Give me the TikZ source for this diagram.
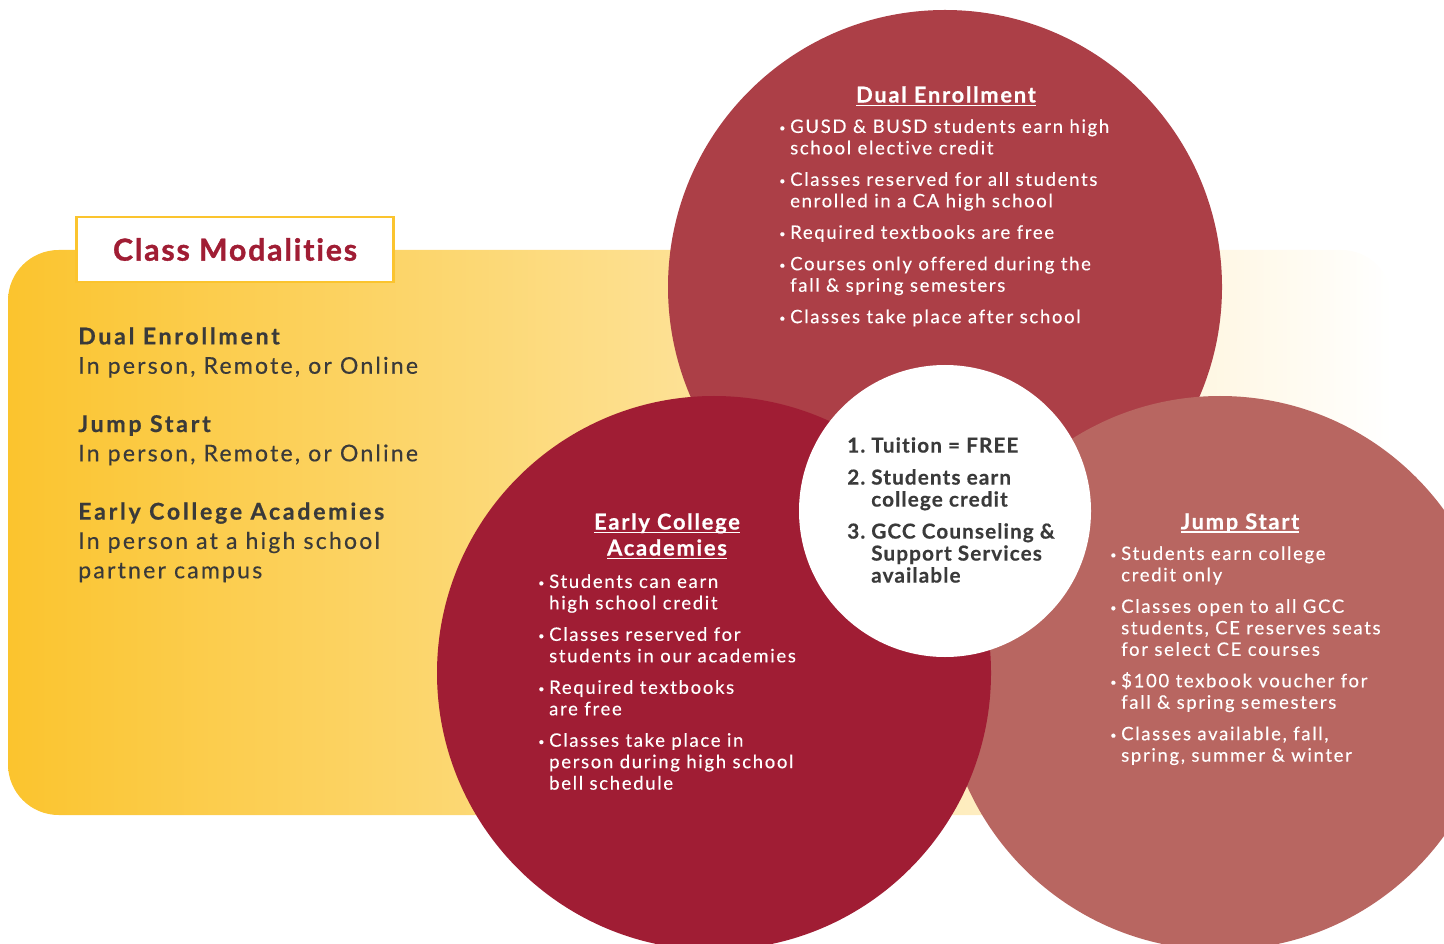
\documentclass[tikz,border=0pt]{standalone}
\usepackage{fontspec}
\setmainfont{Lato}[LetterSpace=8,Ligatures={NoCommon}]

\definecolor{deRed}{RGB}{172,63,71}
\definecolor{ecaRed}{RGB}{160,29,52}
\definecolor{jsRed}{RGB}{184,102,97}
\definecolor{gold}{RGB}{251,196,46}
\definecolor{ink}{RGB}{58,58,58}

\newcommand{\bul}{\makebox[8.2pt][l]{\raisebox{1pt}{\fontsize{8}{8}\selectfont\textbullet}}}
\newcommand{\ind}{\hspace*{8.2pt}}
\newcommand{\num}[1]{\makebox[18pt][l]{#1}}
\newcommand{\ulhead}[1]{\setbox0\hbox{#1}\rlap{\rule[-2.8pt]{\wd0}{1.2pt}}\box0}
\newcommand{\modehead}[1]{{\bfseries\addfontfeatures{LetterSpace=12,FakeBold=0.6}#1}}

\tikzset{
  bullets/.style={anchor=north west, inner sep=0pt, align=left, text=white,
    font=\fontsize{13.9}{16.1}\selectfont\addfontfeatures{LetterSpace=9,FakeBold=0.3}},
  heading/.style={anchor=north, inner sep=0pt, align=center, text=white,
    font=\fontsize{16.4}{19.5}\selectfont\bfseries\addfontfeatures{FakeBold=0.6}},
}

\begin{document}
\begin{tikzpicture}[x=0.75pt,y=0.75pt,yscale=-1,xscale=1]
\clip (0,0) rectangle (1444,944);

%Background band
\shade [left color=gold, right color=white, rounded corners=38pt] (8,250) rectangle (1392,815);
%Title box
\node [draw=gold, line width=1.8pt, fill=white, minimum width=238pt, minimum height=48.5pt,
  inner sep=0pt, text=ecaRed, font=\fontsize{22.7}{26}\selectfont\bfseries\addfontfeatures{LetterSpace=6,FakeBold=1.2}] (title) at (235,249.5) {Class Modalities};

%Circles
\fill [deRed]  (945,287) circle (277);
\fill [jsRed]  (1220,673) circle (277);
\fill [ecaRed] (714,673) circle (277);
\fill [white]  (945,511) circle (146);

% Text Node
\node [anchor=north west, inner sep=0pt, align=left, text=ink, font=\fontsize{17.3}{22}\selectfont\addfontfeatures{LetterSpace=9.5,FakeBold=0.3}] (modes) at (78,327)
  {\modehead{Dual Enrollment}\\
   In person, Remote, or Online\\[21.7pt]
   \modehead{Jump Start}\\
   In person, Remote, or Online\\[21.7pt]
   \modehead{Early College Academies}\\
   In person at a high school\\
   partner campus};

% Text Node
\node [heading] (deHead) at (946,86) {\ulhead{Dual Enrollment}};
% Text Node
\node [bullets] (deList) at (779,119)
  {\bul GUSD \& BUSD students earn high\\
   \ind school elective credit\\[7.5pt]
   \bul Classes reserved for all students\\
   \ind enrolled in a CA high school\\[7.5pt]
   \bul Required textbooks are free\\[7.5pt]
   \bul Courses only offered during the\\
   \ind fall \& spring semesters\\[7.5pt]
   \bul Classes take place after school};

% Text Node
\node [heading] (ecaHead) at (667,513) {\ulhead{Early College}\\ \ulhead{Academies}};
% Text Node
\node [bullets] (ecaList) at (538,574)
  {\bul Students can earn\\
   \ind high school credit\\[7.5pt]
   \bul Classes reserved for\\
   \ind students in our academies\\[7.5pt]
   \bul Required textbooks\\
   \ind are free\\[7.5pt]
   \bul Classes take place in\\
   \ind person during high school\\
   \ind bell schedule};

% Text Node
\node [heading] (jsHead) at (1240,513) {\ulhead{Jump Start}};
% Text Node
\node [bullets] (jsList) at (1110,546)
  {\bul Students earn college\\
   \ind credit only\\[7.5pt]
   \bul Classes open to all GCC\\
   \ind students, CE reserves seats\\
   \ind for select CE courses\\[7.5pt]
   \bul \$100 texbook voucher for\\
   \ind fall \& spring semesters\\[7.5pt]
   \bul Classes available, fall,\\
   \ind spring, summer \& winter};

% Text Node
\node [anchor=north west, inner sep=0pt, align=left, text=ink, font=\fontsize{15.5}{16.5}\selectfont\bfseries\addfontfeatures{LetterSpace=5.5,FakeBold=0.4}] (perks) at (847,437)
  {\num{1.}Tuition = FREE\\[7.5pt]
   \num{2.}Students earn\\
   \num{}college credit\\[7.5pt]
   \num{3.}GCC Counseling \&\\
   \num{}Support Services\\
   \num{}available};

\end{tikzpicture}
\end{document}
